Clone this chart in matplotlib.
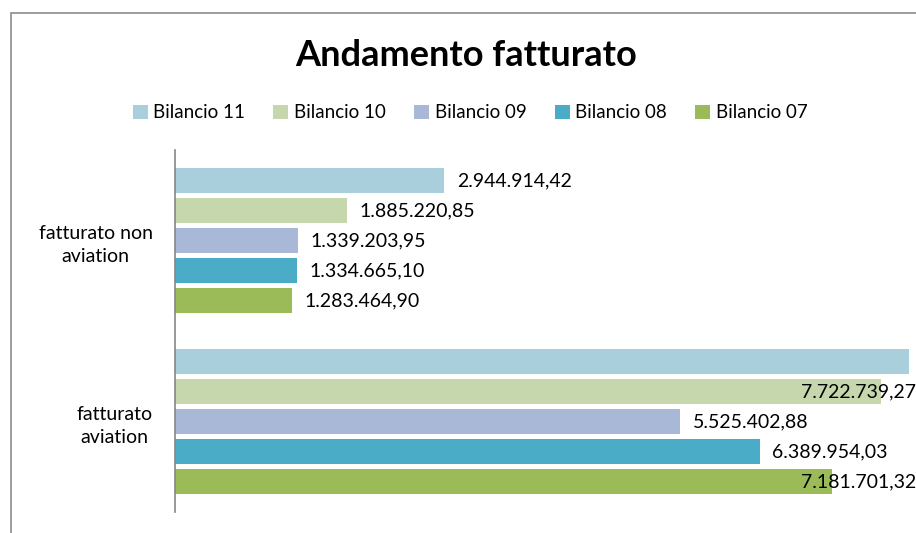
import matplotlib
matplotlib.use("Agg")
import matplotlib.pyplot as plt
from matplotlib.patches import Patch, Rectangle

# ==========================================
# DATA
# ==========================================
categories = ["fatturato\naviation", "fatturato non\naviation"]
series = ["Bilancio 11", "Bilancio 10", "Bilancio 09", "Bilancio 08", "Bilancio 07"]
colors = ["#a9cedc", "#c6d7ad", "#a9b8d6", "#4aacc6", "#9bbb59"]

# values per series: [aviation, non aviation]
bil_11 = [8020000.00, 2944914.42]
bil_10 = [7722739.27, 1885220.85]
bil_09 = [5525402.88, 1339203.95]
bil_08 = [6389954.03, 1334665.10]
bil_07 = [7181701.32, 1283464.90]
values = [bil_11, bil_10, bil_09, bil_08, bil_07]

# data labels that are not shown in the original (series, category index)
hidden_labels = [("Bilancio 11", 0)]


def it_format(v):
    s = f"{v:,.2f}"
    return s.replace(",", "X").replace(".", ",").replace("X", ".")


plt.rcParams['font.family'] = ['Lato', 'DejaVu Sans']

W, H = 916, 533
fig = plt.figure(figsize=(W / 100, H / 100), dpi=100)
ax = fig.add_axes([175 / W, 21 / H, 741 / W, 362 / H])

pitch = 0.166
bar_h = 0.135
n = len(series)
label_size = 14

texts = []
for i, (name, vals, col) in enumerate(zip(series, values, colors)):
    offset = (n // 2 - i) * pitch
    ypos = [k + offset for k in range(len(categories))]
    ax.barh(ypos, vals, height=bar_h, color=col, label=name)
    for k, v in enumerate(vals):
        if (name, k) in hidden_labels:
            continue
        t = ax.annotate(it_format(v), (v, ypos[k]), xytext=(9, 0),
                        textcoords="offset points", ha="left", va="center",
                        fontsize=label_size, color="black", annotation_clip=False)
        texts.append((t, v, ypos[k]))

ax.set_xlim(0, 8.1e6)
ax.set_ylim(-0.5, 1.5)
ax.set_yticks(range(len(categories)))
ax.set_yticklabels(categories, fontsize=label_size)
for lab in ax.get_yticklabels():
    lab.set_multialignment("center")
    lab.set_linespacing(1.45)
ax.tick_params(axis="y", length=0, pad=16)
ax.set_xticks([])
for side in ["top", "right", "bottom"]:
    ax.spines[side].set_visible(False)
ax.spines["left"].set_color("#868686")
ax.spines["left"].set_linewidth(1.2)

# labels that would run past the plot area are pulled back inside (like Excel)
fig.canvas.draw()
renderer = fig.canvas.get_renderer()
right_px = ax.get_window_extent().x1
for t, v, y in texts:
    bb = t.get_window_extent(renderer)
    if bb.x1 > right_px:
        t.remove()
        ax.text(1.0, y, it_format(v), transform=ax.get_yaxis_transform(),
                ha="right", va="center", fontsize=label_size, color="black",
                clip_on=False)

fig.text(466 / W, 1 - 55 / H, "Andamento fatturato", ha="center", va="center",
         fontsize=26, fontweight="bold")

handles = [Patch(facecolor=c, label=s) for s, c in zip(series, colors)]
fig.legend(handles=handles, loc="center", bbox_to_anchor=(470 / W, 1 - 113 / H),
           ncol=5, frameon=False, fontsize=13.5, handlelength=0.8, handleheight=0.85,
           handletextpad=0.3, columnspacing=1.5)

# outer chart frame (cut off on the right and bottom)
fig.patches.append(Rectangle((11 / W, -0.1), 2.0, 1 - 13 / H + 0.1, fill=False,
                             edgecolor="#8c8c8c", linewidth=1.2,
                             transform=fig.transFigure, figure=fig))

fig.savefig("out.png", dpi=100)
